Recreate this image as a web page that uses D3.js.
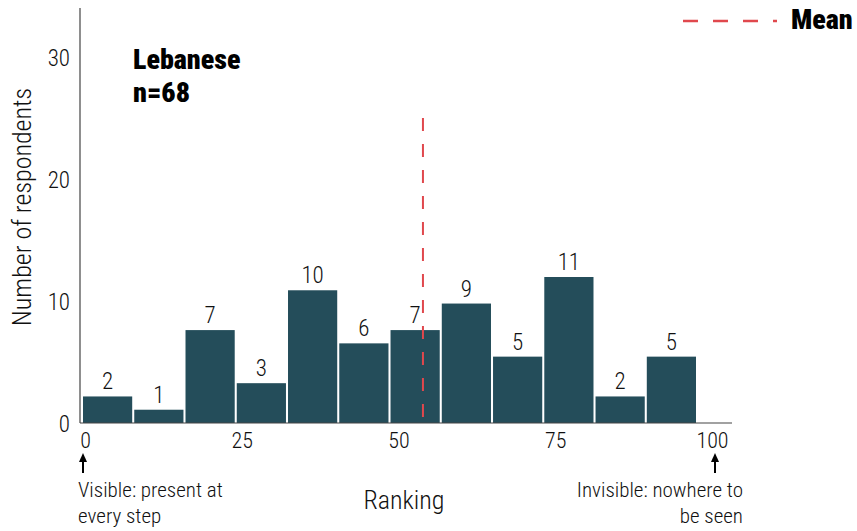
<!DOCTYPE html>
<html>
<head>
<meta charset="utf-8">
<script src="https://cdn.jsdelivr.net/npm/d3@7"></script>
<style>
  body { margin: 0; background: #fff; }
  svg text { font-family: "Roboto Condensed", Roboto, sans-serif; font-weight: 300; fill: #111; }
</style>
</head>
<body>
<div id="svg-container"></div>
<script>
/** Chart data */
const binCounts = [2, 1, 7, 3, 10, 6, 7, 9, 5, 11, 2, 5];
const rankTicks = [0, 25, 50, 75, 100];
const countTicks = [0, 10, 20, 30];
const meanRank = 53.9;
const groupLabel = ["Lebanese", "n=68"];
const leftNote = ["Visible: present at", "every step"];
const rightNote = ["Invisible: nowhere to", "be seen"];

const svgProps = { width: 857, height: 531 };
const barColor = "#244d5a";
const meanColor = "#e0484d";

const svg = d3.select("#svg-container")
  .append("svg")
  .attr("width", svgProps.width)
  .attr("height", svgProps.height)
;

/** Scales */
// bars sit on their own band scale (one band per bin)
const xBand = d3.scaleBand()
  .domain(d3.range(binCounts.length))
  .range([83, 696])
  .paddingInner(0.04)
;

// ranking axis, 0-100
const xRank = d3.scaleLinear()
  .domain([0, 100])
  .range([85, 712])
;

const yCount = d3.scaleLinear()
  .domain([0, 11])
  .range([423, 277])
;

// the axis labels in the reference are spaced a little tighter than the bars
const yAxisScale = d3.scaleLinear()
  .domain([0, 30])
  .range([424, 58])
;

/** Bars */
svg.append("g")
  .attr("id", "bars")
  .selectAll("rect")
  .data(binCounts)
  .enter()
  .append("rect")
  .attr("x", (d, i) => xBand(i))
  .attr("y", d => yCount(d))
  .attr("width", xBand.bandwidth())
  .attr("height", d => yCount(0) - yCount(d))
  .attr("fill", barColor)
;

svg.append("g")
  .attr("id", "bar-labels")
  .selectAll("text")
  .data(binCounts)
  .enter()
  .append("text")
  .attr("x", (d, i) => xBand(i) + xBand.bandwidth() / 2)
  .attr("y", d => yCount(d) - 7)
  .style("text-anchor", "middle")
  .style("font-size", "23px")
  .text(d => d)
;

/** Axes */
const xAxis = d3.axisBottom(xRank)
  .tickValues(rankTicks)
  .tickSize(0)
  .tickPadding(9.5)
;

const yAxis = d3.axisLeft(yAxisScale)
  .tickValues(countTicks)
  .tickSize(0)
  .tickPadding(10)
;

svg.append("g")
  .attr("id", "x-axis")
  .attr("transform", "translate(0," + yCount(0) + ")")
  .call(xAxis)
  .call(g => g.select(".domain").remove())
  .call(g => g.selectAll("text").style("font-size", "22px").attr("fill", "#111"))
;

svg.append("g")
  .attr("id", "y-axis")
  .attr("transform", "translate(80,0)")
  .call(yAxis)
  .call(g => g.select(".domain").remove())
  .call(g => g.selectAll("text").style("font-size", "23px").attr("fill", "#111"))
;

// axis lines
svg.append("line")
  .attr("x1", 80).attr("x2", 80)
  .attr("y1", 8).attr("y2", yCount(0))
  .attr("stroke", "#444")
  .attr("stroke-width", 1.2)
;
svg.append("line")
  .attr("x1", 80).attr("x2", 732)
  .attr("y1", yCount(0)).attr("y2", yCount(0))
  .attr("stroke", "#444")
  .attr("stroke-width", 1.2)
;

/** Mean line */
svg.append("line")
  .attr("id", "mean")
  .attr("x1", xRank(meanRank)).attr("x2", xRank(meanRank))
  .attr("y1", 118).attr("y2", yCount(0))
  .attr("stroke", meanColor)
  .attr("stroke-width", 2)
  .attr("stroke-dasharray", "13,13")
;

/** Legend */
svg.append("line")
  .attr("x1", 683).attr("x2", 777)
  .attr("y1", 21).attr("y2", 21)
  .attr("stroke", meanColor)
  .attr("stroke-width", 2.5)
  .attr("stroke-dasharray", "15,15")
;
svg.append("text")
  .attr("x", 791)
  .attr("y", 29)
  .style("font-size", "28px")
  .style("font-weight", "900")
  .style("fill", "#000")
  .text("Mean")
;

/** Group label */
svg.append("text")
  .attr("x", 133)
  .attr("y", 69)
  .style("font-size", "28px")
  .style("font-weight", "900")
  .style("fill", "#000")
  .selectAll("tspan")
  .data(groupLabel)
  .enter()
  .append("tspan")
  .attr("x", 133)
  .attr("dy", (d, i) => i ? 33 : 0)
  .text(d => d)
;

/** Axis titles */
svg.append("text")
  .attr("x", 404)
  .attr("y", 509)
  .style("text-anchor", "middle")
  .style("font-size", "26px")
  .text("Ranking")
;

svg.append("text")
  .attr("transform", "translate(31,207) rotate(-90)")
  .style("text-anchor", "middle")
  .style("font-size", "26px")
  .text("Number of respondents")
;

/** End notes with arrows */
function arrow(x) {
  svg.append("line")
    .attr("x1", x).attr("x2", x)
    .attr("y1", 473).attr("y2", 460)
    .attr("stroke", "#000")
    .attr("stroke-width", 2)
  ;
  svg.append("path")
    .attr("d", `M${x - 4},${462} L${x},${453} L${x + 4},${462} Z`)
    .attr("fill", "#000")
  ;
}
arrow(xRank(0) - 2);
arrow(xRank(100) + 3);

svg.append("text")
  .attr("y", 497)
  .style("font-size", "21px")
  .selectAll("tspan")
  .data(leftNote)
  .enter()
  .append("tspan")
  .attr("x", 78)
  .attr("dy", (d, i) => i ? 26 : 0)
  .text(d => d)
;

svg.append("text")
  .attr("y", 497)
  .style("font-size", "21px")
  .style("text-anchor", "end")
  .selectAll("tspan")
  .data(rightNote)
  .enter()
  .append("tspan")
  .attr("x", 743)
  .attr("dy", (d, i) => i ? 26 : 0)
  .text(d => d)
;
</script>
</body>
</html>
